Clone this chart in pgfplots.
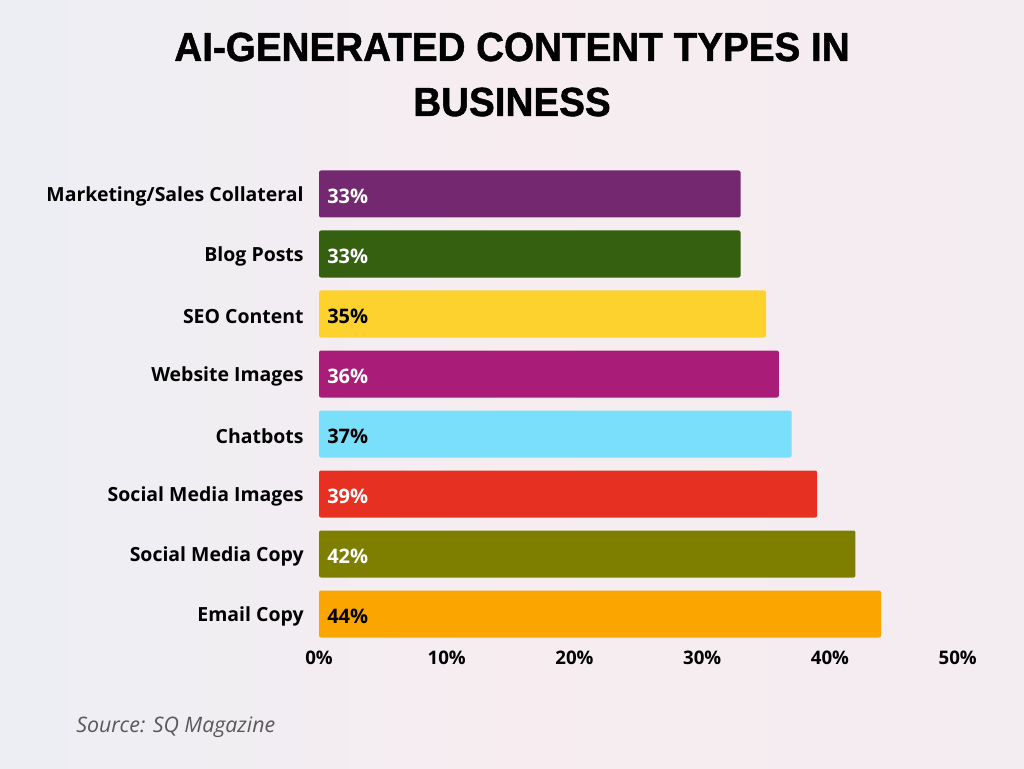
\documentclass[border=0pt]{standalone}
\usepackage{pgfplots}
\pgfplotsset{compat=1.18}
\usepackage{fontspec}
\setmainfont{Open Sans}
\newfontfamily\titlefont[FakeStretch=0.95,FakeBold=1.2]{Liberation Sans Bold}
\definecolor{c1}{HTML}{74286F}
\definecolor{c2}{HTML}{34600F}
\definecolor{c3}{HTML}{FDD22F}
\definecolor{c4}{HTML}{A91C78}
\definecolor{c5}{HTML}{7ADFFB}
\definecolor{c6}{HTML}{E63022}
\definecolor{c7}{HTML}{7E7E00}
\definecolor{c8}{HTML}{FBA600}
\definecolor{bgl}{HTML}{ECEEF4}
\definecolor{bgm}{HTML}{F7EDF0}
\definecolor{bgr}{HTML}{F3ECF1}
\begin{document}
\begin{tikzpicture}[x=0.75pt,y=0.75pt]
\shade[left color=bgl, right color=bgr, middle color=bgm] (0,0) rectangle (1024,768);
\node[anchor=base, font=\titlefont\fontsize{30.5}{32}\selectfont] at (512,768-61) {AI-GENERATED CONTENT TYPES IN};
\node[anchor=base, font=\titlefont\fontsize{30.5}{32}\selectfont] at (512,768-116) {BUSINESS};
\node[anchor=base west, inner sep=0pt, text=black!65, font=\itshape\fontsize{16}{18}\selectfont] at (76,768-732) {Source: SQ Magazine};
\begin{axis}[
  at={(319*0.75pt,124*0.75pt)}, anchor=south west,
  width=479pt, height=360pt, scale only axis,
  xmin=0, xmax=50, ymin=-0.5, ymax=7.5,
  axis line style={draw=none}, major tick length=0pt,
  xtick={0,10,20,30,40,50},
  xticklabels={0\%,10\%,20\%,30\%,40\%,50\%},
  ytick={0,1,2,3,4,5,6,7},
  yticklabels={Email Copy,Social Media Copy,Social Media Images,Chatbots,Website Images,SEO Content,Blog Posts,Marketing/Sales Collateral},
  tick label style={font=\bfseries\fontsize{14}{16}\selectfont, text=black},
  xticklabel style={anchor=north, yshift=-2pt},
  yticklabel style={anchor=east, xshift=-8pt, yshift=-2pt, font=\bfseries\fontsize{14.6}{16}\selectfont},
  clip=false,
]
\addplot[xbar, bar shift=0pt, bar width=35.25pt, fill=c1, draw=none, rounded corners=1.5pt] coordinates {(33,7)};
\addplot[xbar, bar shift=0pt, bar width=35.25pt, fill=c2, draw=none, rounded corners=1.5pt] coordinates {(33,6)};
\addplot[xbar, bar shift=0pt, bar width=35.25pt, fill=c3, draw=none, rounded corners=1.5pt] coordinates {(35,5)};
\addplot[xbar, bar shift=0pt, bar width=35.25pt, fill=c4, draw=none, rounded corners=1.5pt] coordinates {(36,4)};
\addplot[xbar, bar shift=0pt, bar width=35.25pt, fill=c5, draw=none, rounded corners=1.5pt] coordinates {(37,3)};
\addplot[xbar, bar shift=0pt, bar width=35.25pt, fill=c6, draw=none, rounded corners=1.5pt] coordinates {(39,2)};
\addplot[xbar, bar shift=0pt, bar width=35.25pt, fill=c7, draw=none, rounded corners=1.5pt] coordinates {(42,1)};
\addplot[xbar, bar shift=0pt, bar width=35.25pt, fill=c8, draw=none, rounded corners=1.5pt] coordinates {(44,0)};
% white value labels
\addplot[draw=none, mark=none, point meta=explicit symbolic,
  nodes near coords={\pgfplotspointmeta\%},
  nodes near coords style={anchor=west, inner sep=0pt, xshift=6pt, yshift=-1.5pt, text=white, font=\bfseries\fontsize{15}{17}\selectfont}]
  table[meta=v] {
x y v
0 7 33
0 6 33
0 4 36
0 2 39
0 1 42
};
% black value labels
\addplot[draw=none, mark=none, point meta=explicit symbolic,
  nodes near coords={\pgfplotspointmeta\%},
  nodes near coords style={anchor=west, inner sep=0pt, xshift=6pt, yshift=-1.5pt, text=black, font=\bfseries\fontsize{15}{17}\selectfont}]
  table[meta=v] {
x y v
0 5 35
0 3 37
0 0 44
};
\end{axis}
\end{tikzpicture}
\end{document}
